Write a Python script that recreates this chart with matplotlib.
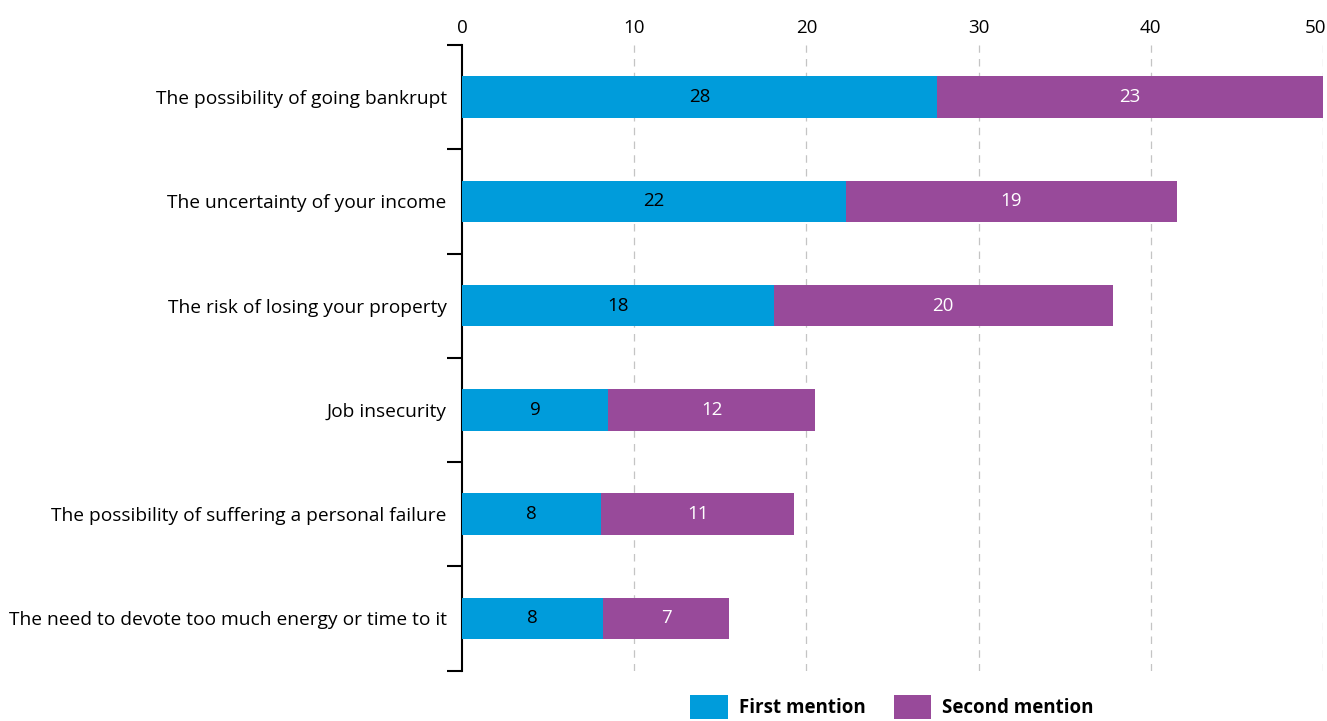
import matplotlib
matplotlib.use("Agg")
import matplotlib.pyplot as plt
from matplotlib.patches import Patch
from matplotlib.transforms import ScaledTranslation
import numpy as np

categories = [
    "The possibility of going bankrupt",
    "The uncertainty of your income",
    "The risk of losing your property",
    "Job insecurity",
    "The possibility of suffering a personal failure",
    "The need to devote too much energy or time to it",
]
first_mention = [27.6, 22.3, 18.1, 8.5, 8.1, 8.2]
second_mention = [22.7, 19.2, 19.7, 12.0, 11.2, 7.3]
series_names = ["First mention", "Second mention"]
x_ticks = [0, 10, 20, 30, 40, 50]

BLUE = "#009cdb"
PURPLE = "#984a9a"

plt.rcParams["font.family"] = ["Open Sans", "DejaVu Sans"]

fig = plt.figure(figsize=(13.27, 7.21), dpi=100)
ax = fig.add_axes([462 / 1327, 1 - 670.5 / 721, (1323 - 462) / 1327, (670.5 - 45) / 721])

y = np.arange(len(categories))
h = 0.4
b1 = ax.barh(y, first_mention, height=h, color=BLUE, label=series_names[0], zorder=3)
b2 = ax.barh(y, second_mention, left=first_mention, height=h, color=PURPLE,
             label=series_names[1], zorder=3)


def fmt(v):
    return str(int(v + 0.5))


for bars, vals, col in ((b1, first_mention, "black"), (b2, second_mention, "white")):
    ax.bar_label(bars, labels=[fmt(v) for v in vals], label_type="center",
                 color=col, fontsize=13.5, zorder=4)

ax.set_xlim(0, 50)
ax.set_ylim(len(categories) - 0.5, -0.5)

ax.xaxis.set_ticks_position("top")
ax.set_xticks(x_ticks)
ax.set_xticklabels([str(t) for t in x_ticks])
ax.tick_params(axis="x", length=0, pad=6, labelsize=13.5)
# keep the last top label inside the canvas
last = ax.get_xticklabels()[-1]
last.set_transform(last.get_transform() + ScaledTranslation(-8 / 100, 0, fig.dpi_scale_trans))

ax.set_yticks(y)
ax.set_yticklabels(categories)
ax.set_yticks(np.arange(-0.5, len(categories)), minor=True)
ax.tick_params(axis="y", which="major", length=0, pad=11, labelsize=13.8)
ax.tick_params(axis="y", which="minor", length=11, width=1.5, color="black")

for s in ("top", "right", "bottom"):
    ax.spines[s].set_visible(False)
ax.spines["left"].set_linewidth(1.5)
ax.spines["left"].set_color("black")

for t in x_ticks[1:]:
    ax.axvline(t, color="#c4c4c4", linewidth=0.9, dashes=(6, 5), zorder=1)

handles = [Patch(facecolor=BLUE), Patch(facecolor=PURPLE)]
fig.legend(handles, series_names, loc="upper left",
           bbox_to_anchor=(690 / 1327, 1 - 695 / 721), ncol=2, frameon=False,
           handlelength=2.0, handleheight=1.6, handletextpad=0.6, columnspacing=1.5,
           borderpad=0, borderaxespad=0,
           prop={"weight": "bold", "size": 13.5})

fig.savefig("out.png", dpi=100)
